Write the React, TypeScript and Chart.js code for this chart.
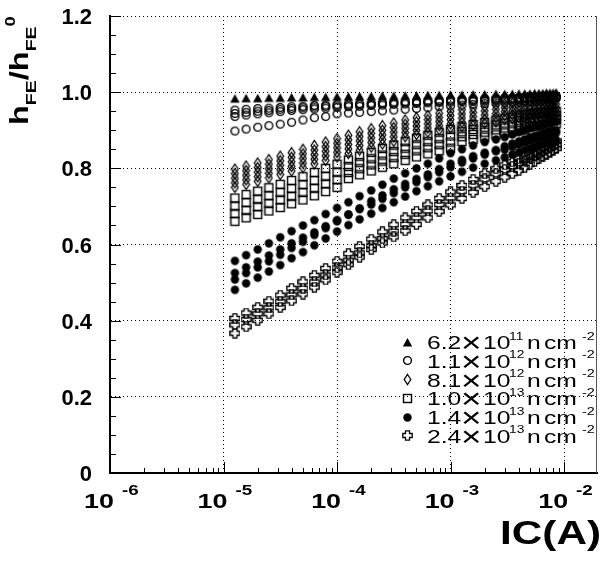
import React, { useEffect, useRef } from 'react';
import { Chart, registerables } from 'chart.js';
Chart.register(...registerables);

// Collector current (A)
const IC = [1.26e-5, 1.58e-5, 2.0e-5, 2.51e-5, 3.16e-5, 3.98e-5, 5.01e-5, 6.31e-5, 7.94e-5, 1.0e-4,
  1.26e-4, 1.58e-4, 2.0e-4, 2.51e-4, 3.16e-4, 3.98e-4, 5.01e-4, 6.31e-4, 7.94e-4, 1.0e-3,
  1.26e-3, 1.58e-3, 2.0e-3, 2.51e-3, 3.0e-3, 3.5e-3, 4.0e-3, 4.5e-3, 5.0e-3, 5.5e-3,
  6.0e-3, 6.5e-3, 7.0e-3, 7.5e-3, 8.0e-3, 8.5e-3];

// 6.2e11
const TRI_A = [0.983, 0.984, 0.984, 0.985, 0.985, 0.986, 0.986, 0.987, 0.987, 0.988, 0.988, 0.989, 0.989, 0.990, 0.990, 0.991, 0.991, 0.992, 0.992, 0.993, 0.993, 0.994, 0.994, 0.995, 0.995, 0.995, 0.996, 0.996, 0.996, 0.997, 0.997, 0.997, 0.998, 0.998, 0.998, 0.999];
// 1.1e12
const CIR_A = [0.953, 0.955, 0.957, 0.958, 0.960, 0.962, 0.963, 0.965, 0.966, 0.968, 0.969, 0.970, 0.971, 0.972, 0.974, 0.975, 0.976, 0.977, 0.978, 0.980, 0.981, 0.982, 0.983, 0.984, 0.985, 0.985, 0.986, 0.987, 0.987, 0.988, 0.988, 0.989, 0.989, 0.989, 0.990, 0.990];
const CIR_B = [0.944, 0.947, 0.950, 0.952, 0.955, 0.957, 0.959, 0.961, 0.963, 0.964, 0.966, 0.967, 0.968, 0.970, 0.971, 0.972, 0.973, 0.975, 0.976, 0.977, 0.978, 0.979, 0.980, 0.981, 0.982, 0.983, 0.983, 0.984, 0.985, 0.985, 0.986, 0.986, 0.987, 0.987, 0.988, 0.988];
const CIR_C = [0.936, 0.940, 0.943, 0.946, 0.949, 0.952, 0.954, 0.956, 0.958, 0.960, 0.962, 0.963, 0.965, 0.966, 0.968, 0.969, 0.970, 0.972, 0.973, 0.974, 0.975, 0.976, 0.977, 0.978, 0.979, 0.980, 0.981, 0.982, 0.982, 0.983, 0.984, 0.984, 0.985, 0.985, 0.986, 0.986];
const CIR_D = [0.898, 0.903, 0.908, 0.912, 0.916, 0.921, 0.927, 0.933, 0.936, 0.943, 0.945, 0.947, 0.949, 0.951, 0.953, 0.955, 0.957, 0.959, 0.962, 0.964, 0.966, 0.968, 0.970, 0.972, 0.974, 0.975, 0.977, 0.978, 0.979, 0.980, 0.981, 0.982, 0.983, 0.983, 0.984, 0.985];
// 8.1e12
const DIA_A = [0.798, 0.806, 0.814, 0.823, 0.832, 0.841, 0.850, 0.860, 0.869, 0.878, 0.887, 0.896, 0.904, 0.912, 0.919, 0.927, 0.933, 0.939, 0.945, 0.950, 0.954, 0.958, 0.962, 0.966, 0.969, 0.971, 0.973, 0.974, 0.975, 0.976, 0.977, 0.977, 0.978, 0.978, 0.979, 0.979];
const DIA_B = [0.786, 0.794, 0.802, 0.811, 0.820, 0.829, 0.838, 0.848, 0.857, 0.866, 0.875, 0.884, 0.892, 0.900, 0.907, 0.916, 0.922, 0.928, 0.934, 0.939, 0.943, 0.947, 0.951, 0.955, 0.959, 0.961, 0.963, 0.964, 0.965, 0.966, 0.967, 0.967, 0.968, 0.968, 0.969, 0.969];
const DIA_C = [0.774, 0.782, 0.790, 0.799, 0.808, 0.817, 0.826, 0.836, 0.845, 0.854, 0.863, 0.872, 0.880, 0.888, 0.895, 0.905, 0.911, 0.917, 0.923, 0.928, 0.932, 0.936, 0.940, 0.944, 0.949, 0.951, 0.953, 0.954, 0.955, 0.956, 0.957, 0.957, 0.958, 0.958, 0.959, 0.959];
const DIA_D = [0.762, 0.770, 0.778, 0.787, 0.796, 0.805, 0.814, 0.824, 0.833, 0.842, 0.851, 0.860, 0.868, 0.876, 0.883, 0.894, 0.900, 0.906, 0.912, 0.917, 0.921, 0.925, 0.929, 0.933, 0.939, 0.941, 0.943, 0.944, 0.945, 0.946, 0.947, 0.947, 0.948, 0.948, 0.949, 0.949];
const DIA_E = [0.750, 0.758, 0.766, 0.775, 0.784, 0.793, 0.802, 0.812, 0.821, 0.830, 0.839, 0.848, 0.856, 0.864, 0.871, 0.883, 0.889, 0.895, 0.901, 0.906, 0.910, 0.914, 0.918, 0.922, 0.929, 0.931, 0.933, 0.934, 0.935, 0.936, 0.937, 0.937, 0.938, 0.938, 0.939, 0.939];
// 1.0e13
const SQR_A = [0.722, 0.731, 0.740, 0.749, 0.758, 0.768, 0.778, 0.789, 0.800, 0.811, 0.822, 0.832, 0.842, 0.852, 0.861, 0.870, 0.879, 0.887, 0.895, 0.902, 0.909, 0.915, 0.921, 0.927, 0.932, 0.935, 0.938, 0.940, 0.942, 0.944, 0.945, 0.946, 0.947, 0.948, 0.949, 0.950];
const SQR_B = [0.701, 0.710, 0.719, 0.728, 0.737, 0.747, 0.757, 0.768, 0.779, 0.790, 0.805, 0.815, 0.825, 0.835, 0.844, 0.853, 0.862, 0.870, 0.878, 0.885, 0.896, 0.902, 0.908, 0.914, 0.919, 0.922, 0.925, 0.927, 0.931, 0.933, 0.934, 0.935, 0.936, 0.937, 0.938, 0.939];
const SQR_C = [0.681, 0.690, 0.699, 0.708, 0.717, 0.727, 0.737, 0.748, 0.759, 0.770, 0.789, 0.799, 0.809, 0.819, 0.828, 0.837, 0.846, 0.854, 0.862, 0.869, 0.883, 0.889, 0.895, 0.901, 0.906, 0.909, 0.912, 0.914, 0.920, 0.922, 0.923, 0.924, 0.925, 0.926, 0.927, 0.928];
const SQR_D = [0.661, 0.670, 0.679, 0.688, 0.697, 0.707, 0.717, 0.728, 0.739, 0.750, 0.773, 0.783, 0.793, 0.803, 0.812, 0.821, 0.830, 0.838, 0.846, 0.853, 0.870, 0.876, 0.882, 0.888, 0.893, 0.896, 0.899, 0.901, 0.909, 0.911, 0.912, 0.913, 0.914, 0.915, 0.916, 0.917];
// 1.4e13
const DOT_A = [0.557, 0.572, 0.587, 0.603, 0.619, 0.635, 0.650, 0.664, 0.680, 0.696, 0.711, 0.727, 0.742, 0.757, 0.773, 0.787, 0.800, 0.812, 0.826, 0.840, 0.850, 0.860, 0.869, 0.876, 0.882, 0.889, 0.895, 0.900, 0.905, 0.909, 0.912, 0.915, 0.917, 0.919, 0.921, 0.923];
const DOT_B = [0.525, 0.540, 0.555, 0.571, 0.587, 0.603, 0.618, 0.632, 0.648, 0.664, 0.679, 0.695, 0.714, 0.729, 0.745, 0.759, 0.772, 0.784, 0.798, 0.812, 0.822, 0.832, 0.841, 0.848, 0.858, 0.865, 0.871, 0.876, 0.881, 0.885, 0.888, 0.891, 0.893, 0.895, 0.897, 0.899];
const DOT_C = [0.508, 0.525, 0.540, 0.556, 0.573, 0.591, 0.607, 0.625, 0.643, 0.661, 0.678, 0.693, 0.705, 0.720, 0.735, 0.750, 0.764, 0.777, 0.790, 0.803, 0.815, 0.826, 0.836, 0.845, 0.849, 0.856, 0.862, 0.868, 0.873, 0.877, 0.881, 0.884, 0.887, 0.889, 0.891, 0.893];
const DOT_D = [0.481, 0.498, 0.513, 0.529, 0.546, 0.564, 0.580, 0.598, 0.616, 0.634, 0.651, 0.666, 0.681, 0.696, 0.711, 0.726, 0.740, 0.753, 0.766, 0.779, 0.791, 0.802, 0.812, 0.821, 0.829, 0.836, 0.842, 0.848, 0.853, 0.857, 0.861, 0.864, 0.867, 0.869, 0.871, 0.873];
// 2.4e13
const CRS_A = [0.406, 0.420, 0.435, 0.451, 0.467, 0.485, 0.502, 0.519, 0.537, 0.556, 0.576, 0.595, 0.614, 0.633, 0.652, 0.670, 0.687, 0.704, 0.721, 0.738, 0.755, 0.771, 0.786, 0.799, 0.809, 0.817, 0.825, 0.832, 0.839, 0.845, 0.851, 0.856, 0.861, 0.865, 0.869, 0.872];
const CRS_B = [0.389, 0.403, 0.418, 0.434, 0.450, 0.468, 0.485, 0.502, 0.520, 0.539, 0.559, 0.578, 0.597, 0.616, 0.635, 0.653, 0.670, 0.688, 0.705, 0.722, 0.740, 0.756, 0.772, 0.786, 0.797, 0.805, 0.813, 0.821, 0.828, 0.834, 0.840, 0.846, 0.851, 0.855, 0.859, 0.862];
const CRS_C = [0.367, 0.384, 0.401, 0.418, 0.435, 0.452, 0.470, 0.488, 0.507, 0.527, 0.547, 0.567, 0.587, 0.604, 0.620, 0.636, 0.653, 0.670, 0.687, 0.704, 0.721, 0.737, 0.752, 0.766, 0.777, 0.786, 0.795, 0.803, 0.811, 0.818, 0.825, 0.831, 0.837, 0.842, 0.847, 0.852];

const FLUENCE_MANT = ['6.2', '1.1', '8.1', '1.0', '1.4', '2.4'];
const FLUENCE_EXP = ['11', '12', '12', '13', '13', '13'];
const MARKERS = ['triangle', 'circle', 'diamond', 'square', 'dot', 'cross'];
const SWEEPS = [
  [TRI_A],
  [CIR_A, CIR_B, CIR_C, CIR_D],
  [DIA_A, DIA_B, DIA_C, DIA_D, DIA_E],
  [SQR_A, SQR_B, SQR_C, SQR_D],
  [DOT_A, DOT_B, DOT_C, DOT_D],
  [CRS_A, CRS_B, CRS_C],
];

const X_MIN = 1e-6;
const X_MAX = 0.0195;
const X_MAJOR = [1e-6, 1e-5, 1e-4, 1e-3, 1e-2];
const X_EXP = ['-6', '-5', '-4', '-3', '-2'];
const Y_MIN = 0;
const Y_MAX = 1.2;
const Y_STEP = 0.2;
const Y_MINOR_STEP = 0.05;

const FONT = "'Liberation Sans', Arial, Helvetica, sans-serif";

function makeMarker(kind: string): HTMLCanvasElement {
  const c = document.createElement('canvas');
  const g = c.getContext('2d') as CanvasRenderingContext2D;
  const setup = (w: number, h: number) => {
    c.width = w; c.height = h;
    g.strokeStyle = '#000'; g.fillStyle = '#000'; g.lineWidth = 1.4;
  };
  if (kind === 'triangle') {
    setup(11, 11);
    g.beginPath(); g.moveTo(5.5, 1); g.lineTo(10.2, 9.5); g.lineTo(0.8, 9.5); g.closePath(); g.fill();
  } else if (kind === 'circle') {
    setup(11, 11);
    g.beginPath(); g.arc(5.5, 5.5, 3.9, 0, Math.PI * 2); g.stroke();
  } else if (kind === 'diamond') {
    setup(9, 13);
    g.lineWidth = 1.3;
    g.beginPath(); g.moveTo(4.5, 1.5); g.lineTo(7.8, 6.5); g.lineTo(4.5, 11.5); g.lineTo(1.2, 6.5); g.closePath(); g.stroke();
  } else if (kind === 'square') {
    setup(11, 11);
    g.lineWidth = 1.4;
    g.strokeRect(1.5, 1.5, 8, 8);
  } else if (kind === 'dot') {
    setup(11, 11);
    g.beginPath(); g.arc(5.5, 5.5, 4.2, 0, Math.PI * 2); g.fill();
  } else {
    setup(11, 11);
    g.lineWidth = 1.3;
    g.beginPath();
    g.moveTo(3.5, 0.8); g.lineTo(7.5, 0.8); g.lineTo(7.5, 3.5); g.lineTo(10.2, 3.5); g.lineTo(10.2, 7.5);
    g.lineTo(7.5, 7.5); g.lineTo(7.5, 10.2); g.lineTo(3.5, 10.2); g.lineTo(3.5, 7.5); g.lineTo(0.8, 7.5);
    g.lineTo(0.8, 3.5); g.lineTo(3.5, 3.5); g.closePath(); g.stroke();
  }
  return c;
}

function text(ctx: CanvasRenderingContext2D, s: string, x: number, y: number, font: string, align: CanvasTextAlign = 'left', sx = 1) {
  ctx.save();
  ctx.font = font;
  ctx.textAlign = align;
  ctx.textBaseline = 'alphabetic';
  ctx.fillStyle = '#000';
  ctx.translate(x, y);
  ctx.scale(sx, 1);
  ctx.fillText(s, 0, 0);
  ctx.restore();
}

export default function App() {
  const ref = useRef<HTMLCanvasElement | null>(null);
  useEffect(() => {
    if (!ref.current) return;
    const markers = MARKERS.map(makeMarker);
    const datasets: any[] = [];
    SWEEPS.forEach((sweeps, si) => {
      sweeps.forEach((vals) => {
        datasets.push({
          label: FLUENCE_MANT[si] + 'e' + FLUENCE_EXP[si],
          data: IC.map((x, i) => ({ x, y: vals[i] })),
          showLine: false,
          pointStyle: markers[si],
          pointRadius: 4,
          order: -si,
        });
      });
    });

    const overlay = {
      id: 'rootStyle',
      afterDraw(chart: any) {
        const ctx: CanvasRenderingContext2D = chart.ctx;
        const xs = chart.scales.x;
        const ys = chart.scales.y;
        const { left, right, top, bottom } = chart.chartArea;
        ctx.save();
        // right frame edge
        ctx.strokeStyle = '#555';
        ctx.lineWidth = 1;
        ctx.beginPath();
        ctx.moveTo(right - 0.5, top); ctx.lineTo(right - 0.5, bottom);
        ctx.stroke();
        // ticks (inside the frame)
        ctx.strokeStyle = '#000';
        ctx.lineWidth = 1;
        ctx.beginPath();
        for (let d = 0; d < X_MAJOR.length; d++) {
          const base = X_MAJOR[d];
          for (let m = 1; m <= 9; m++) {
            const v = base * m;
            if (v > X_MAX) break;
            const px = Math.round(xs.getPixelForValue(v)) + 0.5;
            const len = m === 1 ? 11 : 5;
            ctx.moveTo(px, bottom); ctx.lineTo(px, bottom - len);
          }
        }
        for (let v = Y_MIN; v <= Y_MAX + 1e-9; v += Y_MINOR_STEP) {
          const py = Math.round(ys.getPixelForValue(v)) + 0.5;
          const major = Math.abs(v / Y_STEP - Math.round(v / Y_STEP)) < 1e-6;
          const len = major ? 11 : 6;
          ctx.moveTo(left, py); ctx.lineTo(left + len, py);
        }
        ctx.stroke();
        // y tick labels
        ys.ticks.forEach((t: any) => {
          const py = ys.getPixelForValue(t.value);
          text(ctx, t.label, 92, py + 8, `bold 22px ${FONT}`, 'right');
        });
        // x tick labels 10^n
        X_MAJOR.forEach((v, i) => {
          const px = xs.getPixelForValue(v);
          text(ctx, '10', px + 4, 508, `bold 21px ${FONT}`, 'right', 1.28);
          text(ctx, X_EXP[i], px + 12, 495, `bold 15px ${FONT}`, 'left', 1.25);
        });
        // x title
        text(ctx, 'IC(A)', 601, 544, `bold 33px ${FONT}`, 'right', 1.28);
        // y title (rotated)
        ctx.save();
        ctx.translate(28, 125);
        ctx.rotate(-Math.PI / 2);
        ctx.scale(1.3, 1);
        let cx = 0;
        const piece = (s: string, size: number, dy: number) => {
          ctx.font = `bold ${size}px ${FONT}`;
          ctx.fillStyle = '#000';
          ctx.textBaseline = 'alphabetic';
          ctx.textAlign = 'left';
          ctx.fillText(s, cx, dy);
          cx += ctx.measureText(s).width;
        };
        piece('h', 25, 0);
        piece('FE', 15, 8);
        piece('/h', 25, 0);
        piece('FE', 15, 8);
        piece('0', 14, -13);
        ctx.restore();
        // legend (inside the frame, bottom right)
        const rowY = [342, 360.5, 379.5, 398, 417, 435.5];
        rowY.forEach((ry, i) => {
          const m = markers[i];
          ctx.drawImage(m, Math.round(407 - m.width / 2), Math.round(ry - m.height / 2));
          const f = `19px ${FONT}`;
          const fs = `11.5px ${FONT}`;
          text(ctx, FLUENCE_MANT[i], 427, ry + 7, f, 'left', 1.3);
          text(ctx, '\u00d7', 461, ry + 10, `28px ${FONT}`, 'left', 1.25);
          text(ctx, '10', 483, ry + 7, f, 'left', 1.3);
          text(ctx, FLUENCE_EXP[i], 509, ry - 2.5, fs, 'left', 1.2);
          text(ctx, 'n', 527, ry + 7, f, 'left', 1.3);
          text(ctx, 'cm', 544, ry + 7, f, 'left', 1.3);
          text(ctx, '-2', 582, ry - 2.5, fs, 'left', 1.25);
        });
        ctx.restore();
      },
    };

    const chart = new Chart(ref.current, {
      type: 'scatter',
      data: { datasets },
      plugins: [overlay],
      options: {
        animation: false,
        responsive: false,
        devicePixelRatio: 1,
        layout: { padding: { top: 16, right: 1, left: 0, bottom: 0 } },
        plugins: { legend: { display: false }, tooltip: { enabled: false } },
        scales: {
          x: {
            type: 'logarithmic',
            min: X_MIN,
            max: X_MAX,
            afterBuildTicks: (s: any) => { s.ticks = X_MAJOR.map((v) => ({ value: v })); },
            afterFit: (s: any) => { s.height = 92; },
            ticks: { display: false },
            grid: { color: '#000', lineWidth: 1, drawTicks: false },
            border: { display: true, color: '#000', width: 2, dash: [1, 3] },
          },
          y: {
            min: Y_MIN,
            max: Y_MAX,
            ticks: { stepSize: Y_STEP, display: false },
            afterFit: (s: any) => { s.width = 110; },
            grid: { color: '#000', lineWidth: 1, drawTicks: false },
            border: { display: true, color: '#000', width: 2, dash: [1, 3] },
          },
        },
      } as any,
    });
    return () => chart.destroy();
  }, []);
  return (
    <div style={{ position: 'absolute', left: 0, top: 0, width: 602, height: 565, background: '#fff' }}>
      <canvas ref={ref} width={602} height={565} style={{ width: 602, height: 565, display: 'block' }} />
    </div>
  );
}
